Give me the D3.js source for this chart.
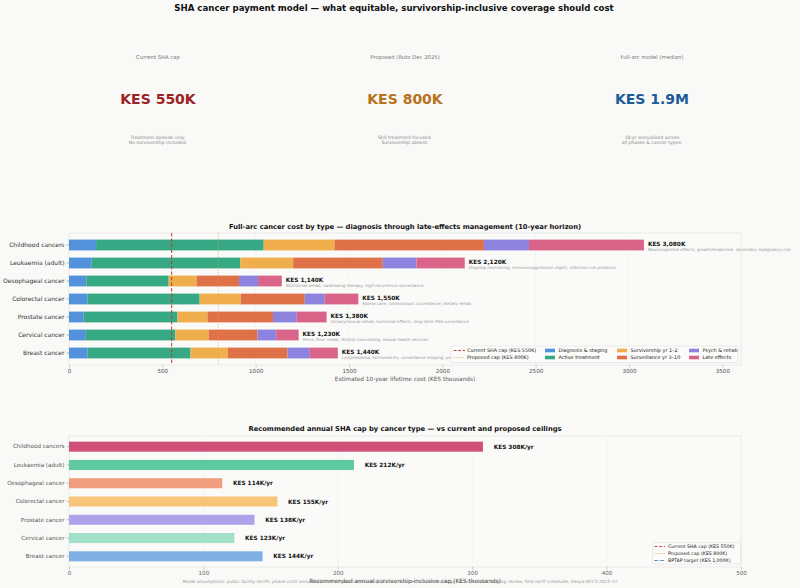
<!DOCTYPE html>
<html><head><meta charset="utf-8">
<script src="https://cdn.jsdelivr.net/npm/d3@7"></script>
<style>
html,body{margin:0;padding:0;background:#f9f9f7;}
text{font-family:"DejaVu Sans",sans-serif;}
</style></head>
<body><svg id="c" width="800" height="588"></svg>
<script>
// ---------- DATA ----------
const categories = ["Childhood cancers","Leukaemia (adult)","Oesophageal cancer","Colorectal cancer","Prostate cancer","Cervical cancer","Breast cancer"];
const phases = ["Diagnosis & staging","Active treatment","Survivorship yr 1–2","Surveillance yr 3–10","Psych & rehab","Late effects"];
const diagnosis = [145,122,93,100,79,90,100];
const activeTx  = [898,796,441,600,502,480,551];
const surv12    = [379,283,149,220,161,179,200];
const surv310   = [801,480,228,343,351,261,320];
const psychRehab= [241,181,102,107,127,100,119];
const lateEff   = [616,258,127,180,160,120,150];
const notes = [
 "Neurocognitive effects, growth/endocrine, secondary malignancy risk",
 "Ongoing monitoring, immunosuppression mgmt, infection risk protocols",
 "Nutritional rehab, swallowing therapy, high recurrence surveillance",
 "Stoma care, colonoscopic surveillance, dietary rehab",
 "Urinary/sexual rehab, hormonal effects, long-term PSA surveillance",
 "Pelvic floor rehab, fertility counselling, sexual health services",
 "Lymphedema, hormonal Rx, surveillance imaging, psychosocial support"
];
const annualCap = [308,212,114,155,138,123,144];
const costTicks = [0,500,1000,1500,2000,2500,3000,3500];
const capTicks = [0,100,200,300,400,500];
const currentCap = 550, proposedCap = 800, bptapTarget = 1000;
const kpiLabels = ["Current SHA cap","Proposed (Ruto Dec 2025)","Full-arc model (median)"];
const kpiValues = ["KES 550K","KES 800K","KES 1.9M"];
const kpiNotes = [["Treatment episode only.","No survivorship included."],["Still treatment-focused.","Survivorship absent."],["10-yr annualised across","all phases & cancer types."]];

// ---------- STYLE ----------
const phaseColors = ["#5192DA","#37A884","#F0AE4C","#DF7149","#8D82DD","#DA6489"];
const capColors = ["#D1507A","#5CC9A0","#F09E7E","#F7C47A","#AEA3EA","#A2E0CA","#80B0E4"];
const kpiColors = ["#9B2226","#B8721C","#1A5B99"];
const red = "#C0392B", orange = "#E8A640", blue = "#3A6EA5";

const svg = d3.select("#c");
svg.append("rect").attr("width",800).attr("height",588).attr("fill","#f9f9f7");

svg.append("text").attr("x",394).attr("y",11).attr("text-anchor","middle")
  .attr("font-size",8.6).attr("font-weight","bold").attr("fill","#111")
  .text("SHA cancer payment model — what equitable, survivorship-inclusive coverage should cost");

// KPI cards
const kpiX = [158,405,652];
kpiLabels.forEach((l,i)=>{
  svg.append("text").attr("x",kpiX[i]).attr("y",59).attr("text-anchor","middle")
    .attr("font-size",5.3).attr("fill","#777").text(l);
  svg.append("text").attr("x",kpiX[i]).attr("y",104).attr("text-anchor","middle")
    .attr("font-size",14).attr("font-weight","bold").attr("fill",kpiColors[i]).text(kpiValues[i]);
  kpiNotes[i].forEach((n,j)=>{
    svg.append("text").attr("x",kpiX[i]).attr("y",138.5+j*5.5).attr("text-anchor","middle")
      .attr("font-size",4.6).attr("fill","#888").text(n);
  });
});

// ---------- CHART 1 ----------
const L=69, R=741;
const t1=233, b1=365;
const x1 = d3.scaleLinear().domain([0,3600]).range([L,R]);
const y1 = d3.scaleBand().domain(categories).range([236,362]).paddingInner(0.4).paddingOuter(0.2);
const g1 = svg.append("g");
g1.append("rect").attr("x",L).attr("y",t1).attr("width",R-L).attr("height",b1-t1).attr("fill","#fafaf8").attr("stroke","#e2e2e0").attr("stroke-width",0.6);
g1.selectAll(".gr").data(costTicks).join("line").attr("x1",d=>x1(d)).attr("x2",d=>x1(d)).attr("y1",t1).attr("y2",b1)
  .attr("stroke","#ececea").attr("stroke-width",0.5);
svg.append("text").attr("x",405).attr("y",228.5).attr("text-anchor","middle").attr("font-size",6.75).attr("font-weight","bold").attr("fill","#111")
  .text("Full-arc cancer cost by type — diagnosis through late-effects management (10-year horizon)");

const seriesArr = [diagnosis,activeTx,surv12,surv310,psychRehab,lateEff];
const rows = categories.map((c,i)=>{const o={cat:c}; phases.forEach((p,k)=>o[p]=seriesArr[k][i]); return o;});
const stack = d3.stack().keys(phases)(rows);
g1.selectAll(".layer").data(stack).join("g").attr("fill",(d,k)=>phaseColors[k])
  .selectAll("rect").data(d=>d).join("rect")
  .attr("x",d=>x1(d[0])).attr("width",d=>x1(d[1])-x1(d[0]))
  .attr("y",d=>y1(d.data.cat)).attr("height",y1.bandwidth());

// reference lines
g1.append("line").attr("x1",x1(currentCap)).attr("x2",x1(currentCap)).attr("y1",t1).attr("y2",b1)
  .attr("stroke",red).attr("stroke-width",1).attr("stroke-dasharray","3.5,2");
g1.append("line").attr("x1",x1(proposedCap)).attr("x2",x1(proposedCap)).attr("y1",t1).attr("y2",b1)
  .attr("stroke",orange).attr("stroke-width",0.8).attr("stroke-dasharray","1,1.6");

// totals
categories.forEach((c,i)=>{
  const tot = d3.sum(seriesArr,s=>s[i]);
  const cy = y1(c)+y1.bandwidth()/2;
  g1.append("text").attr("x",x1(tot)+4).attr("y",cy+1.2).attr("font-size",5.8).attr("font-weight","bold").attr("fill","#111")
    .text("KES "+d3.format(",")(tot)+"K");
  g1.append("text").attr("x",x1(tot)+4).attr("y",cy+6.3).attr("font-size",4.1).attr("font-style","italic").attr("fill","#999")
    .text(notes[i]);
});

// axes
const ax1 = svg.append("g").attr("transform",`translate(0,${b1})`)
  .call(d3.axisBottom(x1).tickValues(costTicks).tickFormat(d3.format("d")).tickSize(2.5).tickPadding(2));
ax1.select(".domain").remove();
ax1.selectAll("line").attr("stroke","#999").attr("stroke-width",0.5);
ax1.selectAll("text").attr("font-size",5.6).attr("fill","#555").attr("font-family","DejaVu Sans");
const ay1 = svg.append("g").attr("transform",`translate(${L},0)`).call(d3.axisLeft(y1).tickSize(2.5).tickPadding(2));
ay1.select(".domain").remove();
ay1.selectAll("line").attr("stroke","#777").attr("stroke-width",0.5);
ay1.selectAll("text").attr("font-size",6.0).attr("fill","#333").attr("font-family","DejaVu Sans");
svg.append("text").attr("x",405).attr("y",381).attr("text-anchor","middle").attr("font-size",5.8).attr("fill","#555")
  .text("Estimated 10-year lifetime cost (KES thousands)");

// legend 1
const lg1 = svg.append("g");
lg1.append("rect").attr("x",451).attr("y",346).attr("width",287).attr("height",16.5).attr("rx",1.5)
  .attr("fill","#fbfbfa").attr("fill-opacity",0.9).attr("stroke","#d8d8d8").attr("stroke-width",0.5);
const rowY=[350.5,357.5];
lg1.append("line").attr("x1",453.5).attr("x2",465).attr("y1",rowY[0]).attr("y2",rowY[0]).attr("stroke",red).attr("stroke-width",0.9).attr("stroke-dasharray","3,1.6");
lg1.append("line").attr("x1",453.5).attr("x2",465).attr("y1",rowY[1]).attr("y2",rowY[1]).attr("stroke",orange).attr("stroke-width",0.8).attr("stroke-dasharray","0.9,1.4");
lg1.append("text").attr("x",467).attr("y",rowY[0]+1.8).attr("font-size",4.9).attr("fill","#222").text("Current SHA cap (KES 550K)");
lg1.append("text").attr("x",467).attr("y",rowY[1]+1.8).attr("font-size",4.9).attr("fill","#222").text("Proposed cap (KES 800K)");
const colX=[545,617,689];
phases.forEach((p,k)=>{
  const cx=colX[Math.floor(k/2)], ry=rowY[k%2];
  lg1.append("rect").attr("x",cx).attr("y",ry-1.8).attr("width",10).attr("height",3.6).attr("fill",phaseColors[k]);
  lg1.append("text").attr("x",cx+13.5).attr("y",ry+1.8).attr("font-size",4.9).attr("fill","#222").text(p);
});

// ---------- CHART 2 ----------
const t2=436, b2=567;
const x2 = d3.scaleLinear().domain([0,500]).range([L,R]);
const y2 = d3.scaleBand().domain(categories).range([438,565]).paddingInner(0.45).paddingOuter(0.2);
const g2 = svg.append("g");
g2.append("rect").attr("x",L).attr("y",t2).attr("width",R-L).attr("height",b2-t2).attr("fill","#fafaf8").attr("stroke","#e2e2e0").attr("stroke-width",0.6);
g2.selectAll(".gr").data(capTicks).join("line").attr("x1",d=>x2(d)).attr("x2",d=>x2(d)).attr("y1",t2).attr("y2",b2)
  .attr("stroke","#ececea").attr("stroke-width",0.5);
svg.append("text").attr("x",405).attr("y",431).attr("text-anchor","middle").attr("font-size",6.75).attr("font-weight","bold").attr("fill","#111")
  .text("Recommended annual SHA cap by cancer type — vs current and proposed ceilings");
g2.selectAll(".bar").data(categories).join("rect")
  .attr("x",x2(0)).attr("y",d=>y2(d)).attr("height",y2.bandwidth())
  .attr("width",(d,i)=>x2(annualCap[i])-x2(0)).attr("fill",(d,i)=>capColors[i]);
categories.forEach((c,i)=>{
  g2.append("text").attr("x",x2(annualCap[i]+8)).attr("y",y2(c)+y2.bandwidth()/2+2).attr("font-size",5.8).attr("font-weight","bold").attr("fill","#111")
    .text("KES "+annualCap[i]+"K/yr");
});
// reference lines (outside domain, clipped)
svg.append("clipPath").attr("id","cl2").append("rect").attr("x",L).attr("y",t2).attr("width",R-L).attr("height",b2-t2);
[[currentCap,red,"3,1.6"],[proposedCap,orange,"0.9,1.4"],[bptapTarget,blue,"3,1.2,0.8,1.2"]].forEach(([v,col,da])=>{
  g2.append("line").attr("clip-path","url(#cl2)").attr("x1",x2(v)).attr("x2",x2(v)).attr("y1",t2).attr("y2",b2)
    .attr("stroke",col).attr("stroke-width",1).attr("stroke-dasharray",da);
});
const ax2 = svg.append("g").attr("transform",`translate(0,${b2})`)
  .call(d3.axisBottom(x2).tickValues(capTicks).tickFormat(d3.format("d")).tickSize(2.5).tickPadding(2));
ax2.select(".domain").remove();
ax2.selectAll("line").attr("stroke","#999").attr("stroke-width",0.5);
ax2.selectAll("text").attr("font-size",5.6).attr("fill","#666").attr("font-family","DejaVu Sans");
const ay2 = svg.append("g").attr("transform",`translate(${L},0)`).call(d3.axisLeft(y2).tickSize(2.5).tickPadding(2));
ay2.select(".domain").remove();
ay2.selectAll("line").attr("stroke","#888").attr("stroke-width",0.5);
ay2.selectAll("text").attr("font-size",5.6).attr("fill","#555").attr("font-family","DejaVu Sans");

// legend 2
const lg2 = svg.append("g");
lg2.append("rect").attr("x",652.5).attr("y",542.5).attr("width",88).attr("height",21.5).attr("rx",1.5)
  .attr("fill","#fbfbfa").attr("stroke","#d8d8d8").attr("stroke-width",0.5);
const lg2Items=[["Current SHA cap (KES 550K)",red,"3,1.6"],["Proposed cap (KES 800K)",orange,"0.9,1.4"],["BPTAP target (KES 1,000K)",blue,"3,1.2,0.8,1.2"]];
lg2Items.forEach(([t,col,da],j)=>{
  const yy=546.5+j*7;
  lg2.append("line").attr("x1",654.5).attr("x2",665).attr("y1",yy).attr("y2",yy).attr("stroke",col).attr("stroke-width",0.9).attr("stroke-dasharray",da);
  lg2.append("text").attr("x",668).attr("y",yy+1.7).attr("font-size",4.7).attr("fill","#222").text(t);
});

// footnote & axis label
svg.append("text").attr("x",400).attr("y",583).attr("text-anchor","middle").attr("font-size",4.3).attr("font-style","italic").attr("fill","#999")
  .text("Model assumptions: public facility tariffs; phase costs annualised over 10 year survivorship horizon. Sources: Lancet Oncology / ecancer 2025 scoping review; SHA tariff schedules; Kenya NCCS 2023–27");
svg.append("text").attr("x",405).attr("y",583).attr("text-anchor","middle").attr("font-size",5.8).attr("fill","#555")
  .text("Recommended annual survivorship-inclusive cap (KES thousands)");
</script></body></html>
